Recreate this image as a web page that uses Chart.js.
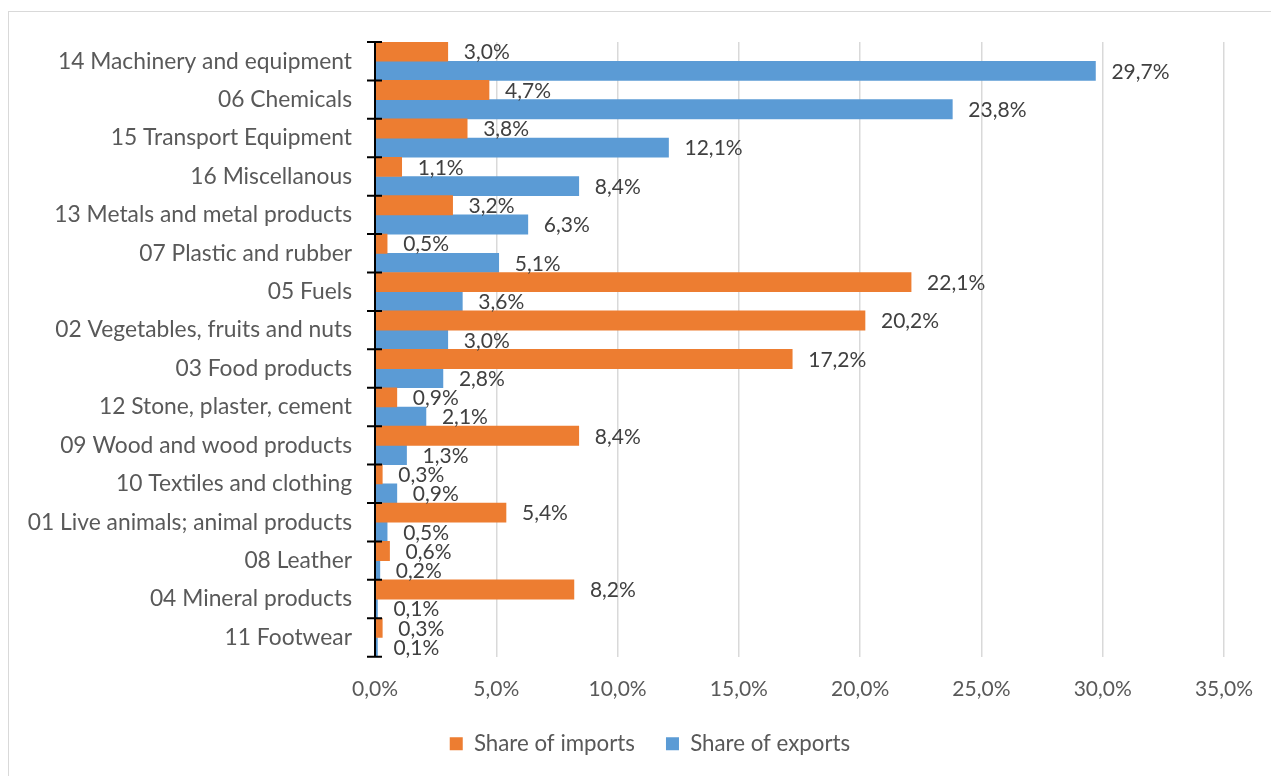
<!DOCTYPE html>
<html>
<head>
<meta charset="utf-8">
<script src="https://cdn.jsdelivr.net/npm/chart.js@4/dist/chart.umd.min.js"></script>
<style>
  html, body { margin: 0; padding: 0; width: 1271px; height: 776px; overflow: hidden; background: #fff; }
  #frame { position: absolute; left: 8px; top: 11px; width: 1300px; height: 800px; border: 1.5px solid #d9d9d9; box-sizing: border-box; }
  #wrap { position: absolute; left: 9px; top: 12px; width: 1282px; height: 776px; }
</style>
</head>
<body>
<div id="frame"></div>
<div id="wrap"><canvas id="c" width="1282" height="776"></canvas></div>
<script>
const categories = [
  "14 Machinery and equipment",
  "06 Chemicals",
  "15 Transport Equipment",
  "16 Miscellanous",
  "13 Metals and metal products",
  "07 Plastic and rubber",
  "05 Fuels",
  "02 Vegetables, fruits and nuts",
  "03 Food products",
  "12 Stone, plaster, cement",
  "09 Wood and wood products",
  "10 Textiles and clothing",
  "01 Live animals; animal products",
  "08 Leather",
  "04 Mineral products",
  "11 Footwear"
];
const shareOfImports = [3.0, 4.7, 3.8, 1.1, 3.2, 0.5, 22.1, 20.2, 17.2, 0.9, 8.4, 0.3, 5.4, 0.6, 8.2, 0.3];
const shareOfExports = [29.7, 23.8, 12.1, 8.4, 6.3, 5.1, 3.6, 3.0, 2.8, 2.1, 1.3, 0.9, 0.5, 0.2, 0.1, 0.1];
const seriesNames = ["Share of imports", "Share of exports"];
const xTickValues = [0, 5, 10, 15, 20, 25, 30, 35];

const FONT = "Lato";
const fmt = v => v.toFixed(1).replace('.', ',') + '%';

const valueLabels = {
  id: 'valueLabels',
  afterDatasetsDraw(chart) {
    const ctx = chart.ctx;
    ctx.save();
    ctx.font = "21px " + FONT;
    ctx.fillStyle = "#404040";
    ctx.textAlign = "left";
    ctx.textBaseline = "middle";
    chart.data.datasets.forEach((ds, di) => {
      const meta = chart.getDatasetMeta(di);
      meta.data.forEach((bar, i) => {
        ctx.fillText(fmt(ds.data[i]), bar.x + 16, bar.y + 1);
      });
    });
    ctx.restore();
  }
};

const axisTicks = {
  id: 'axisTicks',
  afterDraw(chart) {
    const ctx = chart.ctx;
    const y = chart.scales.y;
    const left = chart.chartArea.left;
    const n = chart.data.labels.length;
    ctx.save();
    ctx.strokeStyle = "#000";
    ctx.lineWidth = 2;
    ctx.beginPath();
    ctx.moveTo(left, chart.chartArea.top);
    ctx.lineTo(left, chart.chartArea.bottom);
    for (let i = 0; i <= n; i++) {
      const py = y.getPixelForValue(i - 0.5);
      ctx.moveTo(left - 8, py);
      ctx.lineTo(left + 7, py);
    }
    ctx.stroke();
    ctx.restore();
  }
};

new Chart(document.getElementById('c'), {
  type: 'bar',
  data: {
    labels: categories,
    datasets: [
      { label: seriesNames[0], data: shareOfImports, backgroundColor: '#ED7D31', categoryPercentage: 1, barPercentage: 1 },
      { label: seriesNames[1], data: shareOfExports, backgroundColor: '#5B9BD5', categoryPercentage: 1, barPercentage: 1 }
    ]
  },
  options: {
    indexAxis: 'y',
    responsive: false,
    animation: false,
    layout: { padding: { left: 0, right: 0, top: 30, bottom: 23 } },
    scales: {
      x: {
        min: 0, max: 35,
        afterBuildTicks(scale) { scale.ticks = xTickValues.map(v => ({ value: v })); },
        afterFit(scale) { scale.height = 45; scale.paddingRight = 67; scale.paddingLeft = 0; },
        grid: { color: '#d9d9d9', lineWidth: 1.5, drawTicks: false },
        border: { display: false },
        ticks: { padding: 20, color: '#595959', font: { family: FONT, size: 21 }, callback: v => fmt(v) }
      },
      y: {
        afterFit(scale) { scale.width = 366; scale.paddingTop = 0; scale.paddingBottom = 0; },
        grid: { display: false, drawTicks: false },
        border: { display: false },
        ticks: { padding: 23, color: '#595959', font: { family: FONT, size: 22.8 } }
      }
    },
    plugins: {
      legend: {
        position: 'bottom',
        labels: { boxWidth: 13, boxHeight: 13, padding: 31, color: '#595959', font: { family: FONT, size: 22.3 } }
      },
      tooltip: { enabled: false }
    }
  },
  plugins: [valueLabels, axisTicks]
});
</script>
</body>
</html>
